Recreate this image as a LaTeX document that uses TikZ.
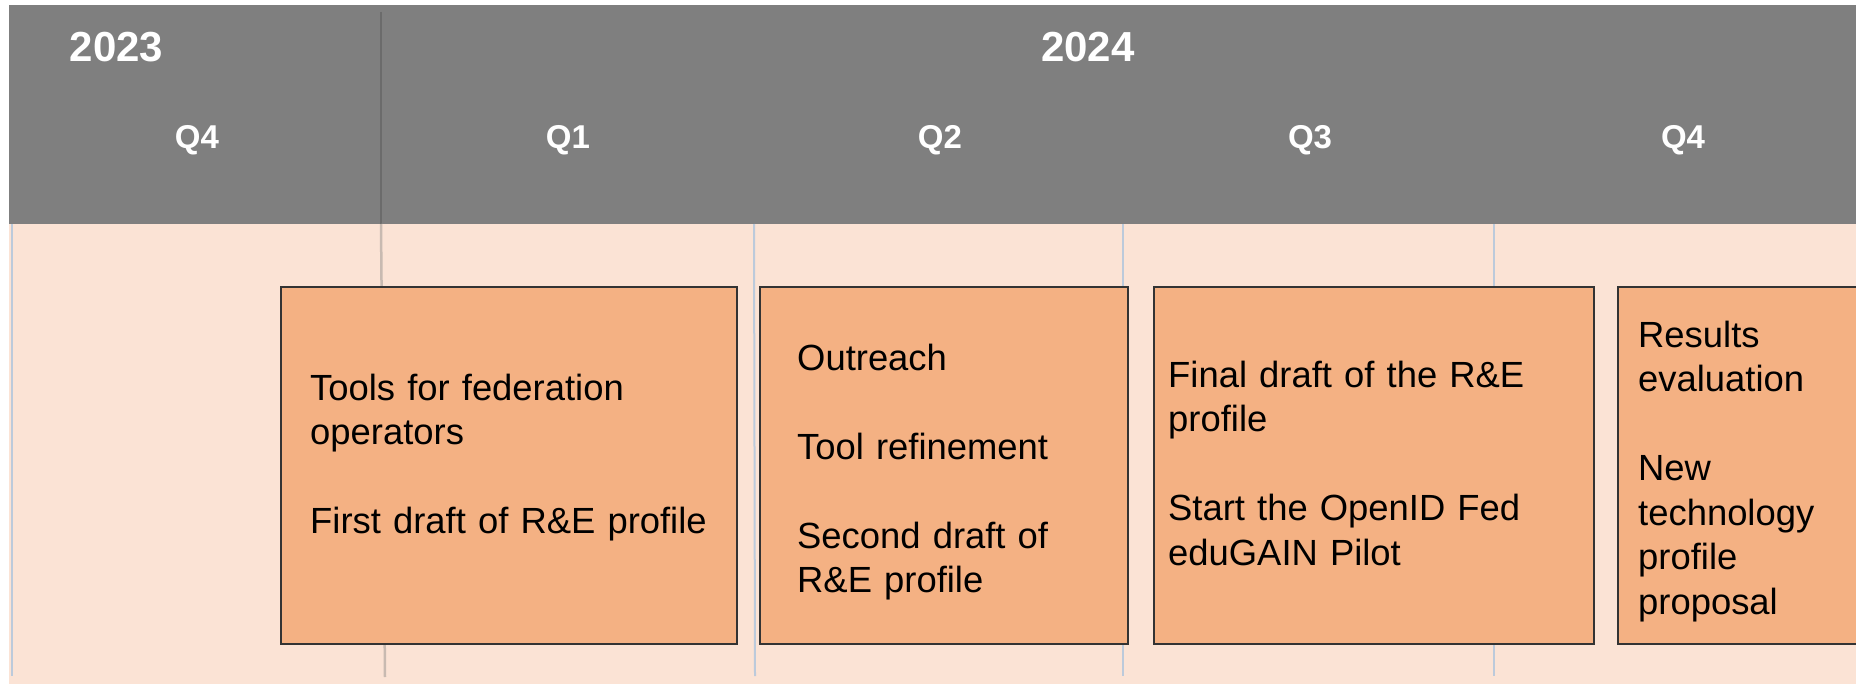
\documentclass[tikz,border=0pt]{standalone}
\usepackage{fontspec}
\setmainfont{Liberation Sans}
\definecolor{hdrgray}{HTML}{7F7F7F}
\definecolor{peach}{HTML}{FBE3D5}
\definecolor{taskfill}{HTML}{F4B183}
\definecolor{taskline}{HTML}{333333}
\definecolor{divdark}{HTML}{6B6B6B}
\definecolor{divlight}{HTML}{C8BAB1}
\definecolor{gridblue}{HTML}{BCCADB}
\begin{document}
\begin{tikzpicture}[x=1pt,y=-1pt,
  yearlbl/.style={text=white,font=\fontsize{42}{50}\selectfont\bfseries,inner sep=0pt,anchor=base},
  qlbl/.style={text=white,font=\fontsize{33}{40}\selectfont\bfseries,inner sep=0pt,anchor=base},
  taskbox/.style={draw=taskline,line width=2pt,fill=taskfill,minimum height=357pt,inner sep=0pt,anchor=north west},
  tasktext/.style={inner sep=0pt,anchor=base west,align=left,font=\fontsize{36.4}{44.5}\selectfont},
  gridline/.style={draw=gridblue,line width=2pt}
]
\useasboundingbox (0,0) rectangle (1856,685);
% header and body backgrounds
\fill[hdrgray] (9,5) rectangle (1856,224);
\fill[peach] (9,224) rectangle (1856,684);
% grid lines
\coordinate (g0t) at (12,224);   \coordinate (g0b) at (12,676);
\coordinate (g2t) at (754,224);  \coordinate (g2b) at (755,676);
\coordinate (g3t) at (1123,224); \coordinate (g3b) at (1123,676);
\coordinate (g4t) at (1494,224); \coordinate (g4b) at (1494,676);
\coordinate (d1t) at (381,12);   \coordinate (d1m) at (381,224); \coordinate (d1b) at (385,677);
\draw[gridline] (g0t) -- (g0b);
\draw[gridline] (g2t) -- (g2b);
\draw[gridline] (g3t) -- (g3b);
\draw[gridline] (g4t) -- (g4b);
\draw[divdark,line width=2.5pt] (d1t) -- (d1m);
\draw[divlight,line width=2.5pt] (d1m) -- (d1b);
% header labels
\node[yearlbl] (y2023) at (116.5,62) {2023};
\node[yearlbl] (y2024) at (1088,62) {2024};
\node[qlbl] (q4a) at (197,148) {Q4};
\node[qlbl] (q1) at (568,148) {Q1};
\node[qlbl] (q2) at (940,148) {Q2};
\node[qlbl] (q3) at (1310,148) {Q3};
\node[qlbl] (q4b) at (1683,148) {Q4};
% task boxes
\node[taskbox,minimum width=456pt] (b1) at (280,286) {};
\node[taskbox,minimum width=368pt] (b2) at (759,286) {};
\node[taskbox,minimum width=440pt] (b3) at (1153,286) {};
\node[taskbox,minimum width=260pt] (b4) at (1617,286) {};
% task texts
\node[tasktext,text width=420pt] (t1) at (310,400) {Tools for federation\\operators\\[44.5pt]First draft of R\&E profile};
\node[tasktext,text width=320pt] (t2) at (797,370) {Outreach\\[44.5pt]Tool refinement\\[44.5pt]Second draft of\\R\&E profile};
\node[tasktext,text width=420pt] (t3) at (1168,387) {Final draft of the R\&E\\profile\\[44.5pt]Start the OpenID Fed\\eduGAIN Pilot};
\node[tasktext,text width=215pt] (t4) at (1638,347) {Results\\evaluation\\[44.5pt]New\\technology\\profile\\proposal};
\end{tikzpicture}
\end{document}
